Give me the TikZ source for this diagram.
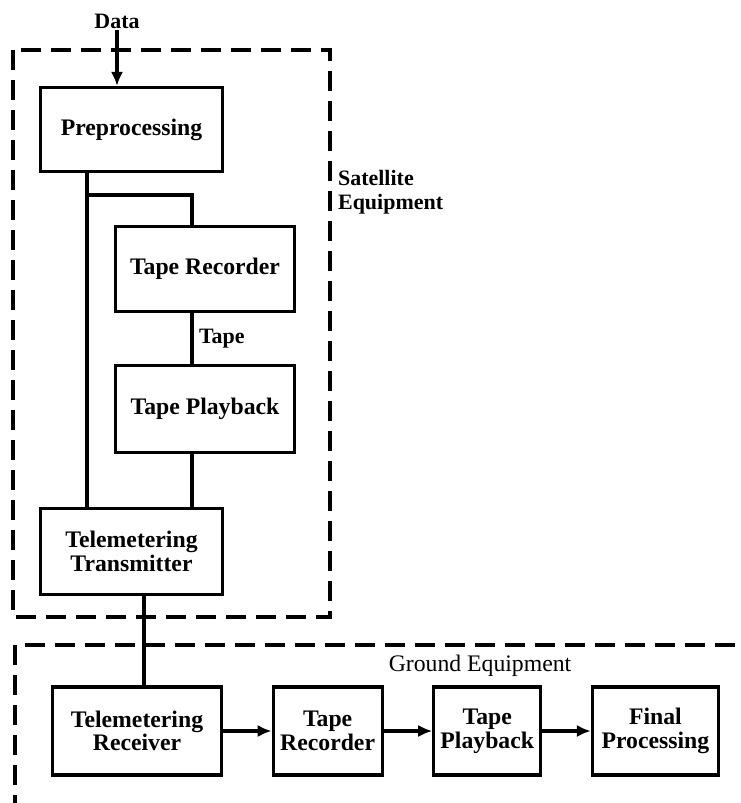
\documentclass[tikz,border=0pt]{standalone}
\usepackage{fontspec}
\setmainfont{Liberation Serif}
\usetikzlibrary{arrows.meta, positioning}

\begin{document}
\begin{tikzpicture}[x=0.02cm, y=-0.02cm, node distance=0.97cm,
                    block/.style={rectangle, draw, line width=1.8pt, align=center,
                                  minimum height=1.76cm,
                                  font=\fontsize{13.5}{13.5}\selectfont\bfseries},
                    note/.style={inner sep=1pt, align=left,
                                 font=\fontsize{12.5}{13.6}\selectfont\bfseries},
                    wire/.style={line width=2pt},
                    dashbox/.style={line width=1.8pt, dash pattern=on 0.4cm off 0.2cm},
                    >={Latex[length=8pt,width=7pt]}]

\useasboundingbox (0,0) rectangle (740,803);

% Enclosures
\draw[dashbox] (13,50) rectangle (330,617);
\draw[dashbox] (15,815) |- (750,645);

% Satellite side
\node (data) [note] at (117,21) {Data};
\node (pre) [block, minimum width=3.64cm, minimum height=1.68cm] at (131.5,129.5) {Preprocessing};
\node (satrec) [block, minimum width=3.58cm, minimum height=1.7cm] at (205,269) {Tape Recorder};
\node (satplay) [block, minimum width=3.58cm, minimum height=1.74cm, below=1.02cm of satrec] {Tape Playback};
\node (tx) [block, minimum width=3.64cm, minimum height=1.72cm] at (131.5,551.5) {Telemetering\\Transmitter};
\node (sat) [note, anchor=north west] at (336,168) {Satellite\\Equipment};

\coordinate (branch) at (87,195);
\coordinate (tapeline) at (192,195);
\coordinate (link) at (144,0);

% Ground side
\node (gnd) [note, font=\fontsize{13.5}{14}\selectfont] at (480,666) {Ground Equipment};
\node (rx) [block, minimum width=3.38cm] at (137,731) {Telemetering\\Receiver};
\node (gndrec) [block, minimum width=2.18cm, right=of rx] {Tape\\Recorder};
\node (gndplay) [block, minimum width=2.14cm, right=of gndrec] {Tape\\Playback};
\node (fin) [block, minimum width=2.52cm, right=of gndplay] {Final\\Processing};

% Edges
\draw[wire, ->] (data) -- (data |- pre.north);
\draw[wire] (branch |- pre.south) -- (branch |- tx.north);
\draw[wire] (branch) -| (tapeline |- satrec.north);
\draw[wire] (tapeline |- satrec.south) -- node[note, right=2pt] {Tape} (tapeline |- satplay.north);
\draw[wire] (tapeline |- satplay.south) -- (tapeline |- tx.north);
\draw[wire] (link |- tx.south) -- (link |- rx.north);
\draw[wire, ->] (rx) -- (gndrec);
\draw[wire, ->] (gndrec) -- (gndplay);
\draw[wire, ->] (gndplay) -- (fin);

\end{tikzpicture}
\end{document}
